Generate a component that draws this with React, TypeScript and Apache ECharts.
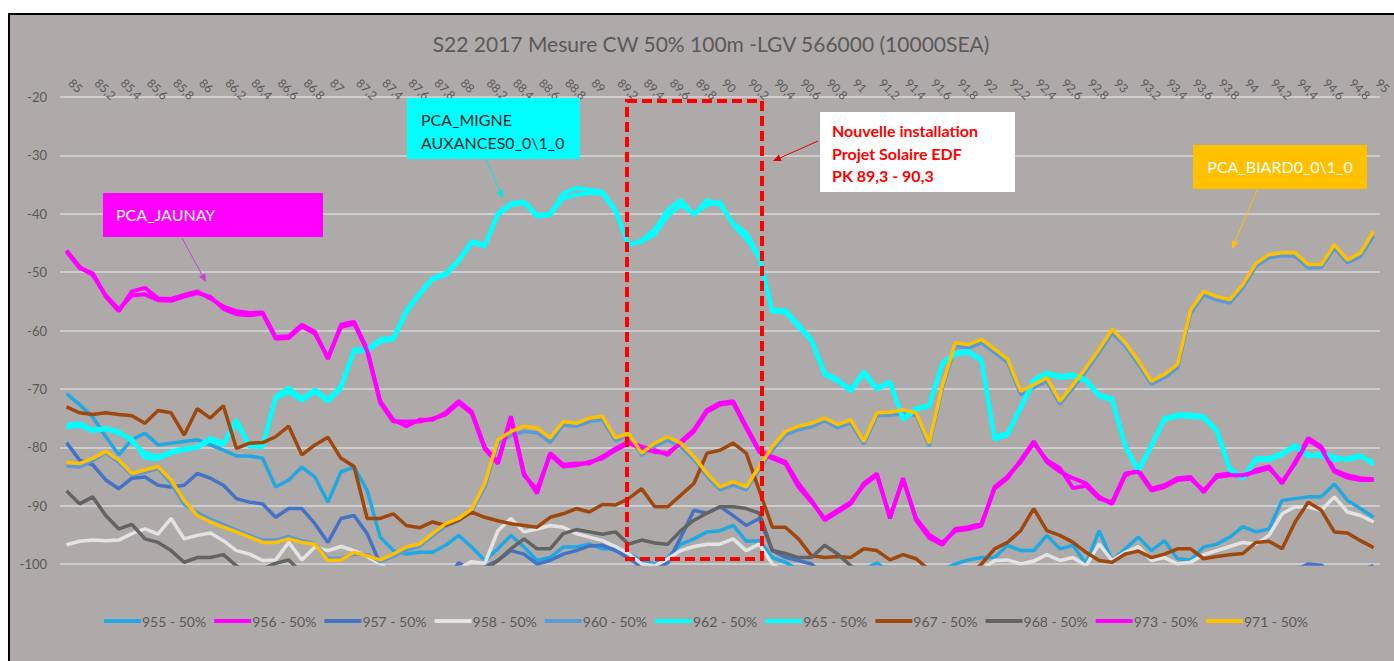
import React, { useEffect, useRef } from 'react';
import * as echarts from 'echarts';

const categories = [
  '85','85,1','85,2','85,3','85,4','85,5','85,6','85,7','85,8','85,9',
  '86','86,1','86,2','86,3','86,4','86,5','86,6','86,7','86,8','86,9',
  '87','87,1','87,2','87,3','87,4','87,5','87,6','87,7','87,8','87,9',
  '88','88,1','88,2','88,3','88,4','88,5','88,6','88,7','88,8','88,9',
  '89','89,1','89,2','89,3','89,4','89,5','89,6','89,7','89,8','89,9',
  '90','90,1','90,2','90,3','90,4','90,5','90,6','90,7','90,8','90,9',
  '91','91,1','91,2','91,3','91,4','91,5','91,6','91,7','91,8','91,9',
  '92','92,1','92,2','92,3','92,4','92,5','92,6','92,7','92,8','92,9',
  '93','93,1','93,2','93,3','93,4','93,5','93,6','93,7','93,8','93,9',
  '94','94,1','94,2','94,3','94,4','94,5','94,6','94,7','94,8','94,9',
  '95'
];

const yMin = -100;
const yMax = -20;
const yStep = 10;

const s955 = [
  -70.8,-72.7,-74.8,-78.2,-81.3,-78.7,-77.6,-79.6,-79.3,-79,
  -78.7,-79.6,-80.5,-81.5,-81.5,-81.9,-86.8,-85.6,-83.4,-85.1,
  -89.4,-84.2,-83.4,-87.4,-95.4,-97.7,-98.3,-98,-98,-96.8,
  -95.1,-97.1,-99.4,-97.4,-95.1,-97.1,-99.4,-98.9,-97.1,-97.1,
  -96.6,-97.4,-97.4,-98.2,-99.4,-100,-98.9,-96.6,-95.7,-94.5,
  -94.3,-93.4,-96.1,-96,-98.9,-99.7,-101,-102.5,-103,-103,
  -102,-101,-99.8,-101.5,-103,-103,-102,-101,-100,-99.3,
  -98.9,-98.9,-96.8,-97.7,-97.7,-95.1,-97.4,-96.8,-100,-94.3,
  -99.4,-97.4,-95.4,-97.7,-96,-99.1,-99.3,-97.1,-96.6,-95.4,
  -93.6,-94.5,-94,-89.1,-88.8,-88.5,-88.5,-86.3,-89.1,-90.5,
  -92
];

const s956 = [
  -46.5,-49.3,-50.2,-54.2,-56.7,-53.3,-52.7,-54.5,-54.6,-53.9,
  -53.3,-54.5,-55.9,-56.7,-57,-56.9,-61.1,-61,-59,-60.2,
  -64.9,-59,-58.5,-63.2,-72.1,-75.3,-76.4,-75.3,-75.3,-74.1,
  -72.1,-73.9,-80,-82.5,-74.7,-84.5,-87.9,-81,-83,-82.8,
  -82.8,-81.6,-80.2,-79,-79.9,-80.5,-81.3,-79,-77,-73.6,
  -72.4,-72.1,-76.4,-80.5,-81.6,-82.5,-86.2,-89.1,-92.5,-91.1,
  -89.7,-86.2,-84.5,-92.2,-85.3,-92.5,-95.5,-96.7,-94,-93.7,
  -93.1,-87.1,-85.3,-82.2,-79,-82.5,-84.2,-85.3,-86.2,-88.5,
  -89.7,-84.8,-83.9,-87.1,-86.5,-85.3,-85.1,-87.7,-84.8,-84.5,
  -85.1,-83.9,-83.3,-86.2,-82.5,-78.4,-79.9,-83.9,-84.8,-85.3,
  -85.5
];

const s957 = [
  -79.2,-82.2,-83,-85.6,-87.1,-85.3,-85.1,-86.5,-86.8,-86.5,
  -84.5,-85.3,-86.5,-88.8,-89.4,-89.7,-92,-90.5,-90.5,-93.1,
  -96.3,-92.2,-91.7,-94.8,-100,-103,-104,-104,-104,-103,
  -99.8,-101,-100.5,-99.4,-97.7,-98.3,-100,-99.4,-98.3,-97.7,
  -96.9,-96.8,-97.7,-99,-100.5,-101,-99.8,-95.4,-90.8,-91.3,
  -90.2,-91.7,-93.4,-92.2,-97.7,-98.9,-99.4,-100,-102,-103,
  -104,-104,-104,-104,-104,-104,-104,-104,-104,-104,
  -104,-104,-104,-104,-104,-104,-104,-104,-104,-104,
  -104,-104,-104,-104,-104,-104,-104,-104,-104,-104,
  -104,-104,-103,-102,-101,-100,-100.2,-102,-102,-101,
  -100.3
];

const s958 = [
  -96.7,-96.1,-95.9,-96,-95.9,-94.8,-94,-94.9,-92.2,-95.7,
  -95.1,-94.7,-96,-97.7,-98.3,-99.4,-99.3,-96.3,-99.3,-97.1,
  -97.7,-97,-97.7,-98.7,-100,-101.5,-102,-102,-102,-101.5,
  -100.8,-99.6,-99.9,-94.3,-92.2,-94.5,-94,-93.4,-93.7,-94.8,
  -95.4,-96,-97,-98.2,-100,-100.3,-99.1,-97.7,-97,-96.6,
  -96.6,-95.7,-97.7,-96.6,-100,-101.5,-102,-102.5,-103,-103,
  -103,-102,-101.5,-102,-103,-103,-102.5,-102,-101.5,-101,
  -101,-99.4,-99.3,-100,-99.5,-98.4,-99.4,-98.9,-100.3,-96.6,
  -99.4,-98,-97,-99.4,-98.9,-100,-99.7,-98.4,-97.7,-97,
  -96.3,-96.6,-95.1,-91.4,-90.2,-90.2,-90.8,-88.5,-91.1,-91.7,
  -92.8
];

const s960 = [
  -83.2,-83.4,-82.3,-80.9,-82.6,-84.8,-84.3,-83.6,-86.2,-89.8,
  -91.2,-92.3,-93.2,-94.2,-95.1,-95.9,-95.9,-95.3,-96,-96.5,
  -99,-99,-98.3,-98.4,-99.6,-98.7,-97.6,-97,-95.2,-93.5,
  -92.6,-91,-86.8,-79.3,-78,-77.3,-77.5,-79.2,-76.2,-76.4,
  -75.6,-75.3,-78.9,-77.9,-81.4,-79.8,-78.8,-79.9,-82.1,-85,
  -87.3,-86.5,-87.3,-83.8,-80.5,-77.9,-77,-76.5,-75.5,-76.7,
  -75.8,-79.5,-74.6,-74.5,-74.3,-74.5,-79.8,-70,-62.7,-63,
  -62.1,-63.8,-65.5,-71,-69.8,-68.7,-72.6,-69.9,-67,-63.8,
  -60.4,-62.7,-65.8,-69.2,-68.1,-66.4,-57.1,-53.9,-54.8,-55.3,
  -52.7,-49,-47.5,-47.2,-47.3,-49.3,-49.2,-45.9,-48.4,-47.3,
  -43.8
];

const s962 = [
  -76.2,-75.9,-77,-76.7,-77.3,-79,-81,-81.6,-80.7,-80.2,
  -79.9,-78.4,-79.3,-75.3,-79.6,-79.6,-71.3,-69.8,-71.6,-70.1,
  -71.8,-69.5,-63.2,-63.2,-61.5,-61.2,-56.5,-53.6,-51,-50.2,
  -47.9,-44.7,-45.3,-39.9,-38.2,-37.9,-40.2,-40,-36.5,-35.6,
  -35.9,-36.2,-39.3,-45.5,-44.5,-42.7,-39.3,-37.6,-40.2,-37.6,
  -38.5,-41.6,-43.3,-47.3,-56.5,-56.5,-59,-61.5,-67.2,-68.4,
  -70.1,-67,-69.8,-68.7,-75,-73.3,-72.7,-65.5,-63.8,-63.5,
  -64.9,-78.2,-77.6,-73,-68.4,-67.2,-67.8,-67.5,-68.4,-71,
  -71.6,-79.6,-83.9,-79.6,-75,-74.4,-74.4,-74.7,-77,-83.6,
  -85.1,-81.9,-81.9,-81,-79.6,-81.3,-81.6,-82.2,-81.9,-81.3,
  -83
];

const s965 = [
  -76.6,-76.3,-77.2,-76.9,-77.6,-78.6,-81.8,-82,-81,-80.5,
  -80.1,-78.8,-79.6,-75.8,-79.9,-80,-71.7,-70.5,-72,-70.5,
  -72.2,-69.9,-63.6,-63.5,-61.9,-61.5,-56.9,-53.9,-51.3,-50.5,
  -48.2,-45,-45.6,-40.2,-38.5,-38.2,-40.5,-40.2,-37.3,-36.8,
  -36.4,-36.6,-39.6,-45.2,-44.8,-43.5,-40.4,-38.5,-40,-38.5,
  -38,-41.9,-44.2,-47.6,-56.8,-56.9,-59.4,-61.8,-67.6,-68.7,
  -70.4,-67.4,-70.1,-69,-75.3,-73.6,-73,-65.9,-64.1,-63.8,
  -65.2,-78.7,-77.9,-73.4,-68.8,-67.5,-68.1,-67.9,-68.7,-71.3,
  -72,-79.9,-84.2,-79.9,-75.3,-74.7,-74.8,-75,-77.3,-83.9,
  -85.4,-82.2,-82.2,-81.3,-79.9,-81.6,-81,-81.6,-82.2,-81.6,
  -82.6
];

const s967 = [
  -73.1,-74.1,-74.4,-74.1,-74.4,-74.6,-75.9,-73.7,-74.1,-77.9,
  -73.4,-75,-72.9,-80.2,-79.3,-79.2,-78.2,-76.4,-81.3,-79.6,
  -78.3,-81.9,-83.3,-92.2,-92.2,-91.4,-93.4,-93.8,-92.8,-93.4,
  -92.5,-91.1,-92,-92.6,-93.1,-93.4,-93.7,-92,-91.4,-90.5,
  -91.1,-89.8,-89.9,-88.8,-87.1,-90.2,-90.2,-88.2,-86.2,-81,
  -80.5,-79.3,-81,-87.4,-93.7,-93.7,-95.7,-98.6,-98.9,-98.7,
  -98.9,-97.4,-97.7,-99.3,-98.4,-99.1,-101,-103,-103,-102,
  -100,-97.4,-96.3,-94.3,-90.5,-94.3,-95.1,-96.3,-98,-99.4,
  -99.7,-98.3,-97.8,-98.9,-98.3,-97.4,-97.4,-99.1,-98.7,-98.4,
  -98.2,-96.3,-96.1,-97.4,-92.8,-89.4,-90.8,-94.5,-94.7,-96,
  -97.2
];

const s968 = [
  -87.5,-89.7,-88.5,-91.7,-94,-93.2,-95.7,-96.3,-97.7,-99.7,
  -98.9,-98.9,-98.4,-100.3,-102,-100.8,-99.9,-99.3,-101.5,-103,
  -104,-104,-104,-104,-104,-104,-104,-104,-104,-104,
  -104,-103,-101,-99.4,-97.4,-95.7,-97.4,-97.4,-94.8,-94.1,
  -94.5,-94.9,-94.5,-96.6,-95.9,-96.4,-96.6,-94.3,-92.5,-91.3,
  -90.2,-90.2,-90.5,-91.3,-97.7,-98.2,-98.9,-98.9,-96.8,-98.3,
  -100.3,-102,-103,-104,-104,-104,-104,-104,-104,-104,
  -104,-104,-104,-104,-104,-104,-104,-104,-104,-104,
  -104,-104,-104,-104,-104,-104,-104,-104,-104,-104,
  -104,-104,-104,-104,-104,-104,-104,-104,-104,-104,
  -104
];

const s973 = [
  -46.3,-49.1,-50.5,-54,-56.4,-54,-53.8,-54.8,-54.9,-54.2,
  -53.6,-54.2,-56.3,-57.2,-57.4,-57.1,-61.4,-61.3,-59.3,-60.5,
  -64.6,-59.4,-58.8,-63.5,-72.4,-75.6,-75.6,-75.6,-75.1,-74.4,
  -72.4,-74.2,-80.3,-82.8,-75,-84.8,-87.2,-81.3,-83.3,-83.1,
  -82.5,-81.9,-80.5,-79.3,-80.2,-80.8,-81,-79.3,-77.3,-73.9,
  -72.7,-72.4,-76.7,-80.8,-81.9,-82.8,-86.8,-89.4,-92.2,-90.8,
  -89.4,-86.5,-84.8,-91.9,-85.6,-92.2,-95,-96.4,-94.3,-94,
  -93.4,-86.8,-85,-82.5,-79.3,-82.2,-83.6,-87,-86.6,-88.8,
  -89.4,-84.5,-84.2,-87.4,-86.8,-85.6,-85.4,-87.4,-85.1,-84.8,
  -84.8,-84.2,-83.6,-85.9,-82.8,-78.8,-80.2,-84.2,-85.2,-85.6,
  -85.6
];

const s971 = [
  -82.6,-82.8,-81.9,-80.7,-82.2,-84.5,-83.9,-83.3,-85.6,-89.1,
  -91.7,-92.8,-93.7,-94.5,-95.4,-96.3,-96.3,-95.7,-96.3,-96.6,
  -99.4,-99.3,-98,-98.6,-99.3,-98.3,-97.1,-96.6,-94.8,-93.1,
  -92.2,-90.6,-86.2,-78.7,-77.3,-76.4,-76.7,-78.4,-75.6,-75.9,
  -75,-74.7,-78.4,-77.6,-81,-79.3,-78.2,-79.3,-81.6,-84.5,
  -86.8,-85.9,-86.8,-83.3,-79.9,-77.3,-76.4,-75.9,-75,-76.1,
  -75.3,-79,-74.1,-74,-73.6,-74.1,-79.3,-69.5,-62.1,-62.4,
  -61.5,-63.2,-64.9,-70.4,-69.3,-68.1,-72.1,-69.3,-66.4,-63.2,
  -59.8,-62.1,-65.2,-68.7,-67.5,-65.8,-56.5,-53.3,-54.2,-54.7,
  -52.1,-48.5,-47,-46.7,-46.7,-48.7,-48.7,-45.3,-47.9,-46.7,
  -43
];

const seriesDefs = [
  { name: '955 - 50%', data: s955, color: '#1FA8E2', width: 3.5 },
  { name: '956 - 50%', data: s956, color: '#FF00FF', width: 4 },
  { name: '957 - 50%', data: s957, color: '#4472C4', width: 3.5 },
  { name: '958 - 50%', data: s958, color: '#E3E3E3', width: 3.5 },
  { name: '960 - 50%', data: s960, color: '#5B9BD5', width: 3.5 },
  { name: '962 - 50%', data: s962, color: '#00FFFF', width: 4 },
  { name: '965 - 50%', data: s965, color: '#00FFFF', width: 4 },
  { name: '967 - 50%', data: s967, color: '#9E480E', width: 3.5 },
  { name: '968 - 50%', data: s968, color: '#636363', width: 3.5 },
  { name: '973 - 50%', data: s973, color: '#FF00FF', width: 4 },
  { name: '971 - 50%', data: s971, color: '#FFC000', width: 3.5 },
];

const TITLE = 'S22 2017 Mesure CW 50% 100m -LGV 566000 (10000SEA)';
const FONT = "Lato, 'Open Sans', 'DejaVu Sans', sans-serif";

function arrow(x1: number, y1: number, x2: number, y2: number, color: string, width = 1, head = 8) {
  const dx = x2 - x1;
  const dy = y2 - y1;
  const len = Math.hypot(dx, dy);
  const ux = dx / len;
  const uy = dy / len;
  const bx = x2 - ux * head;
  const by = y2 - uy * head;
  const px = -uy * head * 0.45;
  const py = ux * head * 0.45;
  return [
    { type: 'line', z: 100, silent: true, shape: { x1, y1, x2: bx, y2: by }, style: { stroke: color, lineWidth: width } },
    { type: 'polygon', z: 100, silent: true, shape: { points: [[x2, y2], [bx + px, by + py], [bx - px, by - py]] }, style: { fill: color } },
  ];
}

function label(text: string, x: number, y: number, color: string, size = 16, weight = 'normal', align = 'left') {
  return {
    type: 'text', z: 101, silent: true, x, y,
    style: {
      text, fill: color, font: `${weight} ${size}px ${FONT}`,
      textAlign: align, textVerticalAlign: 'middle', align, verticalAlign: 'middle',
    },
  };
}

export default function App() {
  const ref = useRef<HTMLDivElement>(null);
  useEffect(() => {
    if (!ref.current) return;
    const chart = echarts.init(ref.current, null, { renderer: 'svg' });
    const graphics: any[] = [
      { type: 'rect', z: -10, silent: true, shape: { x: 9, y: 14, width: 1400, height: 670 }, style: { fill: '#AEAAAA', stroke: '#000000', lineWidth: 2 } },
      // red dashed zone
      { type: 'rect', z: 99, silent: true, shape: { x: 627, y: 101, width: 135, height: 458 }, style: { fill: 'none', stroke: '#FF0000', lineWidth: 4, lineDash: [10, 5] } },
      // PCA_JAUNAY
      { type: 'rect', z: 100, silent: true, shape: { x: 103, y: 193, width: 220, height: 44 }, style: { fill: '#FF00FF' } },
      label('PCA_JAUNAY', 116, 214, '#FFFFFF'),
      ...arrow(182, 238, 206, 282, '#D040D0', 1, 8),
      // PCA_MIGNE
      { type: 'rect', z: 100, silent: true, shape: { x: 407, y: 98, width: 173, height: 61 }, style: { fill: '#00FFFF' } },
      label('PCA_MIGNE', 421, 119, '#262626'),
      label('AUXANCES0_0\\1_0', 421, 142, '#262626'),
      ...arrow(486, 160, 503, 198, '#00E8E8', 1, 8),
      // white box
      { type: 'rect', z: 100, silent: true, shape: { x: 820, y: 112, width: 195, height: 80 }, style: { fill: '#FFFFFF' } },
      label('Nouvelle installation', 832, 130, '#FF0000', 16, 'bold'),
      label('Projet Solaire EDF', 832, 153, '#FF0000', 16, 'bold'),
      label('PK 89,3 - 90,3', 832, 175, '#FF0000', 16, 'bold'),
      ...arrow(818, 141, 773, 161, '#E00000', 1, 8),
      // PCA_BIARD
      { type: 'rect', z: 100, silent: true, shape: { x: 1193, y: 145, width: 174, height: 44 }, style: { fill: '#FFC000' } },
      label('PCA_BIARD0_0\\1_0', 1280, 166, '#FFFFFF', 16, 'normal', 'center'),
      ...arrow(1257, 190, 1232, 249, '#FFC000', 1, 8),
    ];

    chart.setOption({
      animation: false,
      backgroundColor: '#FFFFFF',
      title: {
        text: TITLE,
        left: 706,
        top: 28,
        textAlign: 'center',
        textStyle: { fontFamily: FONT, fontSize: 21, fontWeight: 'normal', color: '#595959' },
      },
      grid: { left: 60, right: 6, top: 97, bottom: 97, containLabel: false },
      legend: {
        top: 609,
        left: 99,
        icon: 'rect',
        itemWidth: 37,
        itemHeight: 4,
        itemGap: 8,
        textStyle: { fontFamily: FONT, fontSize: 14, color: '#595959', padding: [0, 0, 0, -4] },
        data: seriesDefs.map((s) => s.name),
      },
      xAxis: {
        type: 'category',
        position: 'top',
        data: categories,
        boundaryGap: true,
        axisLine: { show: false },
        axisTick: { show: false },
        splitLine: { show: false },
        axisLabel: {
          interval: 1, rotate: 45, fontSize: 12, color: '#595959', margin: 12,
          fontFamily: FONT, align: 'left', verticalAlign: 'bottom',
        },
      },
      yAxis: {
        type: 'value',
        min: yMin,
        max: yMax,
        interval: yStep,
        axisLine: { show: false },
        axisTick: { show: false },
        axisLabel: { fontSize: 13, color: '#595959', margin: 13, fontFamily: FONT },
        splitLine: { lineStyle: { color: '#D9D9D9', width: 1.5 } },
      },
      series: seriesDefs.map((s) => ({
        name: s.name,
        type: 'line',
        data: s.data,
        symbol: 'none',
        clip: true,
        lineStyle: { color: s.color, width: s.width },
        itemStyle: { color: s.color },
        emphasis: { disabled: true },
      })),
      graphic: graphics,
    });
    return () => chart.dispose();
  }, []);
  return <div ref={ref} style={{ position: 'absolute', left: 0, top: 0, width: 1394, height: 661 }} />;
}
